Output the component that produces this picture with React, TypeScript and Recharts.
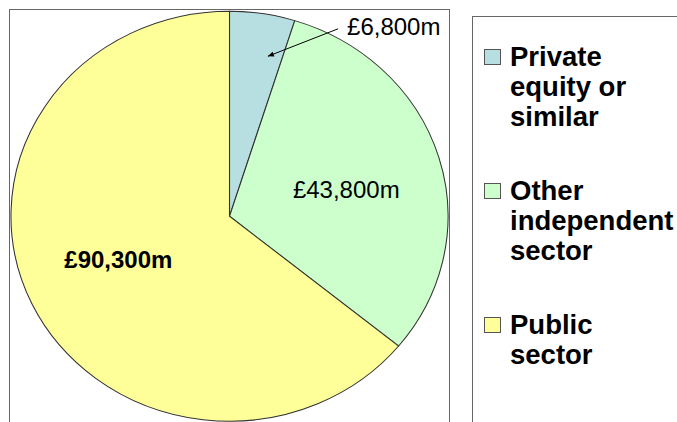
import { Cell, Legend, Pie, PieChart } from 'recharts';

// £m by type of provider
const categories = ['Private\nequity or\nsimilar', 'Other\nindependent\nsector', 'Public\nsector'];
const spend = [6800, 43800, 90300];

const COLORS = ['#B7DEE0', '#CCFFCC', '#FFFF99'];
const FONT = '"Liberation Sans", Arial, Helvetica, sans-serif';
const RADIAN = Math.PI / 180;

// the pie in the original is a little wider than it is tall
const CX = 229.5;
const CY = 216.25;
const SX = 1.066;

const data = categories.map((name, i) => ({ name, value: spend[i] }));

const money = (v: number) => `£${v.toLocaleString('en-GB')}m`;

function renderLabel(props: any) {
  const { cx, cy, midAngle, outerRadius, value, index } = props;
  const at = (f: number, deg: number = midAngle) => ({
    x: cx + SX * outerRadius * f * Math.cos(-deg * RADIAN),
    y: cy + outerRadius * f * Math.sin(-deg * RADIAN),
  });

  if (index === 0) {
    // small slice: label sits outside with an arrow pointing in
    const tip = at(0.8, midAngle - 4);
    const tx = cx + SX * outerRadius * 0.538;
    const ty = cy - outerRadius * 0.885;
    const tail = { x: tx - 9, y: ty - 6 };
    const dx = tip.x - tail.x;
    const dy = tip.y - tail.y;
    const len = Math.hypot(dx, dy);
    const ux = dx / len;
    const uy = dy / len;
    const head = `${tip.x},${tip.y} ${tip.x - ux * 6 - uy * 2.5},${tip.y - uy * 6 + ux * 2.5} ${tip.x - ux * 6 + uy * 2.5},${tip.y - uy * 6 - ux * 2.5}`;
    return (
      <g>
        <line x1={tail.x} y1={tail.y} x2={tip.x} y2={tip.y} stroke="#000" strokeWidth={1} />
        <polygon points={head} fill="#000" />
        <text x={tx} y={ty} fill="#000" fontSize={24} fontFamily={FONT} textAnchor="start">
          {money(value)}
        </text>
      </g>
    );
  }

  const p = at(0.55, midAngle - 3);
  return (
    <text
      x={p.x}
      y={p.y + 8.5}
      fill="#000"
      fontSize={24}
      fontFamily={FONT}
      fontWeight={index === 2 ? 'bold' : 'normal'}
      textAnchor="middle"
    >
      {money(value)}
    </text>
  );
}

function LegendContent() {
  return (
    <div style={{ fontFamily: FONT, fontWeight: 'bold', fontSize: 27.5, lineHeight: '30px', color: '#000' }}>
      {categories.map((name, i) => (
        <div key={name} style={{ display: 'flex', alignItems: 'flex-start', marginBottom: 44 }}>
          <span
            style={{
              width: 17,
              height: 16,
              marginTop: 7,
              marginRight: 9,
              background: COLORS[i],
              border: '1px solid #555',
              boxSizing: 'border-box',
              flex: 'none',
            }}
          />
          <span style={{ whiteSpace: 'pre-line' }}>{name}</span>
        </div>
      ))}
    </div>
  );
}

export default function App() {
  return (
    <div style={{ position: 'absolute', left: 0, top: 0, width: 677, height: 422, overflow: 'hidden', background: '#fff' }}>
      <style>{`.recharts-pie .recharts-sector { transform-box: view-box; transform-origin: ${CX}px ${CY}px; transform: scaleX(${SX}); }`}</style>
      <div
        style={{
          position: 'absolute',
          left: 9,
          top: 9,
          width: 441,
          height: 460,
          border: '1.5px solid #666',
          boxSizing: 'border-box',
        }}
      />
      <div
        style={{
          position: 'absolute',
          left: 472,
          top: 16,
          width: 260,
          height: 460,
          border: '1.5px solid #666',
          boxSizing: 'border-box',
        }}
      />
      <PieChart width={677} height={422} margin={{ top: 0, right: 0, bottom: 0, left: 0 }}>
        <Pie
          data={data}
          dataKey="value"
          nameKey="name"
          cx={CX}
          cy={CY}
          outerRadius={205}
          startAngle={90}
          endAngle={-270}
          stroke="#333"
          strokeWidth={1}
          label={renderLabel}
          labelLine={false}
          isAnimationActive={false}
        >
          {data.map((d, i) => (
            <Cell key={d.name} fill={COLORS[i]} />
          ))}
        </Pie>
        <Legend
          layout="vertical"
          align="right"
          verticalAlign="top"
          content={<LegendContent />}
          wrapperStyle={{ left: 484, top: 42, width: 193 }}
        />
      </PieChart>
    </div>
  );
}
